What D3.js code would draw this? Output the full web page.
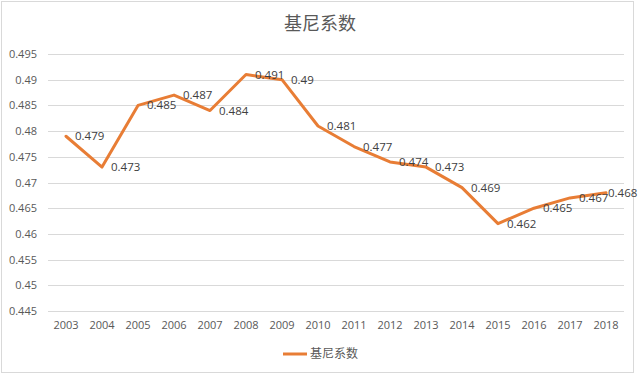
<!DOCTYPE html>
<html>
<head>
<meta charset="utf-8">
<script src="https://cdn.jsdelivr.net/npm/d3@7"></script>
<style>
  body { margin: 0; background: #fff; }
  svg { display: block; }
</style>
</head>
<body>
<svg id="chart" width="640" height="376"></svg>
<script>
// data
var years = ["2003", "2004", "2005", "2006", "2007", "2008", "2009", "2010",
  "2011", "2012", "2013", "2014", "2015", "2016", "2017", "2018"];
var gini = [0.479, 0.473, 0.485, 0.487, 0.484, 0.491, 0.49, 0.481,
  0.477, 0.474, 0.473, 0.469, 0.462, 0.465, 0.467, 0.468];
var yTicks = [0.445, 0.45, 0.455, 0.46, 0.465, 0.47, 0.475, 0.48, 0.485, 0.49, 0.495];
var seriesName = "基尼系数";

var svg = d3.select("#chart"),
  width = +svg.attr("width"),
  height = +svg.attr("height");

var numFont = "'Open Sans', 'Noto Sans', sans-serif",
  cjkFont = "'Noto Sans CJK SC', sans-serif",
  textColor = "#595959",
  lineColor = "#E87D35";

// chart border
svg.append("rect")
  .attr("x", 1.5).attr("y", 1.5)
  .attr("width", width - 8).attr("height", height - 5)
  .attr("fill", "#fff")
  .attr("stroke", "#d9d9d9");

var plot = { left: 48, right: 624, top: 54, bottom: 311 };

var x = d3.scaleBand()
  .domain(years)
  .range([plot.left, plot.right]);

var y = d3.scaleLinear()
  .domain([0.445, 0.495])
  .range([plot.bottom, plot.top]);

// grid lines
svg.append("g")
  .selectAll("line")
  .data(yTicks)
  .enter()
  .append("line")
  .attr("x1", plot.left).attr("x2", plot.right)
  .attr("y1", function(d) { return Math.round(y(d)) + 0.5; })
  .attr("y2", function(d) { return Math.round(y(d)) + 0.5; })
  .attr("stroke", "#d9d9d9")
  .attr("stroke-width", 1);

// y axis labels
var yAxis = d3.axisLeft(y)
  .tickValues(yTicks)
  .tickSize(0)
  .tickPadding(11)
  .tickFormat(function(d) { return String(+d.toFixed(3)); });

svg.append("g")
  .attr("transform", "translate(" + plot.left + ",0)")
  .call(yAxis)
  .call(function(g) { g.select(".domain").remove(); })
  .selectAll("text")
  .attr("fill", textColor)
  .style("font-family", numFont)
  .style("font-size", "11px");

// x axis labels
var xAxis = d3.axisBottom(x).tickSize(0).tickPadding(10);

svg.append("g")
  .attr("transform", "translate(0," + plot.bottom + ")")
  .call(xAxis)
  .call(function(g) { g.select(".domain").remove(); })
  .selectAll("text")
  .attr("fill", textColor)
  .style("font-family", numFont)
  .style("font-size", "11px");

// the line
var line = d3.line()
  .x(function(d, i) { return x(years[i]) + x.bandwidth() / 2; })
  .y(function(d) { return y(d); });

svg.append("path")
  .datum(gini)
  .attr("d", line)
  .attr("fill", "none")
  .attr("stroke", lineColor)
  .attr("stroke-width", 3)
  .attr("stroke-linejoin", "round")
  .attr("stroke-linecap", "round");

// data labels, to the right of each point (last one pulled in to fit)
svg.append("g")
  .selectAll("text")
  .data(gini)
  .enter()
  .append("text")
  .attr("x", function(d, i) {
    var off = i === gini.length - 1 ? 2 : 9;
    return x(years[i]) + x.bandwidth() / 2 + off;
  })
  .attr("y", function(d) { return y(d); })
  .attr("dy", "0.35em")
  .attr("fill", "#404040")
  .style("font-family", numFont)
  .style("font-size", "11.5px")
  .text(function(d) { return d; });

// title
svg.append("text")
  .attr("x", width / 2)
  .attr("y", 30)
  .attr("text-anchor", "middle")
  .attr("fill", textColor)
  .style("font-family", cjkFont)
  .style("font-size", "18px")
  .text(seriesName);

// legend
var legend = svg.append("g").attr("transform", "translate(283,354)");
legend.append("line")
  .attr("x1", 0).attr("x2", 24)
  .attr("y1", 0).attr("y2", 0)
  .attr("stroke", lineColor)
  .attr("stroke-width", 3);
legend.append("text")
  .attr("x", 27)
  .attr("y", 0)
  .attr("dy", "0.35em")
  .attr("fill", textColor)
  .style("font-family", cjkFont)
  .style("font-size", "12px")
  .text(seriesName);
</script>
</body>
</html>
